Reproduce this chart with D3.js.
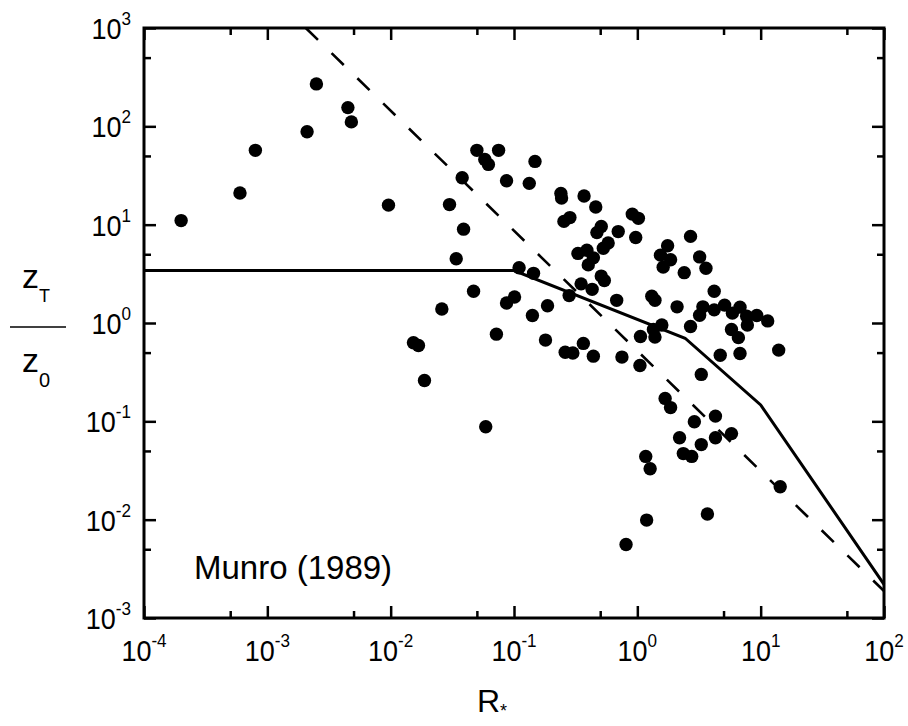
<!DOCTYPE html>
<html lang="en">
<head>
<meta charset="UTF-8">
<title>zT/z0 vs R*</title>
<script src="https://d3js.org/d3.v7.min.js"></script>
<style>
  body { margin: 0; background: #fff; }
  text { font-family: "Liberation Sans", Arial, Helvetica, sans-serif; fill: #000; }
</style>
</head>
<body>
<div id="chart"></div>
<script>
// tick values and labels
const xMajor = [1e-4, 1e-3, 1e-2, 1e-1, 1e0, 1e1, 1e2];
const xExp = ["-4", "-3", "-2", "-1", "0", "1", "2"];
const xMinor = [5e-4, 5e-3, 5e-2, 5e-1, 5, 50];
const yMajor = [1e-3, 1e-2, 1e-1, 1e0, 1e1, 1e2, 1e3];
const yExp = ["-3", "-2", "-1", "0", "1", "2", "3"];
const yMinor = [5e-3, 5e-2, 5e-1, 5, 50, 500];

// observations, Munro (1989)
const rStar = [
  2.0e-4, 6.0e-4, 8.0e-4, 2.1e-3, 2.5e-3, 4.5e-3, 4.8e-3, 9.6e-3,
  0.050, 0.075, 0.058, 0.062, 0.148, 0.038, 0.087, 0.133, 0.030, 0.039, 0.034,
  0.110, 0.144, 0.047, 0.101, 0.087, 0.026, 0.141, 0.072, 0.0153, 0.0168, 0.0188, 0.059,
  0.24, 0.243, 0.37, 0.46, 0.254, 0.284, 0.51, 0.47, 0.70, 0.58, 0.53, 0.33, 0.39,
  0.44, 0.40, 0.51, 0.54, 0.35, 0.43, 0.28, 0.68, 0.187, 0.18, 0.365, 0.26, 0.30, 0.44,
  0.91, 1.02, 0.97, 2.7, 1.76, 1.54, 1.86, 1.62, 3.2, 3.6, 2.4, 4.2, 1.31, 1.39,
  2.1, 3.4, 3.2, 5.1, 4.2, 5.9, 6.8, 7.7, 9.3, 7.8, 11.4, 2.7, 5.8, 6.6,
  1.58, 1.35, 1.39, 1.06, 14, 0.75, 1.05, 3.3, 4.7, 6.8,
  1.68, 1.86, 4.3, 2.9, 2.2, 4.3, 5.8, 3.3, 2.36, 2.76, 1.17, 1.27,
  14.4, 3.7, 1.19, 0.81
];
const zRatio = [
  11, 21, 57, 88, 270, 155, 111, 15.8,
  57, 57, 46, 41, 44, 30, 28, 26.3, 16, 9.0, 4.5,
  3.65, 3.2, 2.1, 1.84, 1.6, 1.39, 1.19, 0.77, 0.63, 0.59, 0.26, 0.088,
  20.8, 18.7, 19.6, 15.1, 10.8, 11.8, 9.6, 8.3, 8.5, 6.5, 5.75, 5.1, 5.5,
  4.6, 3.9, 3.0, 2.7, 2.5, 2.2, 1.9, 1.7, 1.5, 0.67, 0.62, 0.505, 0.495, 0.46,
  12.8, 11.6, 7.4, 7.6, 6.1, 4.9, 4.4, 3.7, 4.7, 3.6, 3.25, 2.1, 1.87, 1.7,
  1.46, 1.46, 1.2, 1.52, 1.36, 1.26, 1.45, 1.17, 1.19, 0.955, 1.05, 0.92, 0.86, 0.71,
  0.955, 0.86, 0.72, 0.73, 0.53, 0.45, 0.37, 0.30, 0.47, 0.49,
  0.171, 0.138, 0.113, 0.099, 0.068, 0.068, 0.075, 0.058, 0.047, 0.044, 0.044, 0.033,
  0.0216, 0.0114, 0.0099, 0.0056
];

// model curve (solid) and fit line (dashed)
const modelR = [1e-4, 0.1, 2.44, 10, 100];
const modelZ = [3.42, 3.42, 0.70, 0.147, 0.0022];
const fitR = [2.05e-3, 100];
const fitZ = [1000, 1.88e-3];

const width = 908, height = 726;
const margin = { top: 28, right: 24, bottom: 108, left: 144 };
const w = width - margin.left - margin.right;
const h = height - margin.top - margin.bottom;

const svg = d3.select("#chart").append("svg")
  .attr("width", width).attr("height", height);
svg.append("rect").attr("width", width).attr("height", height).attr("fill", "#fff");

const g = svg.append("g").attr("transform", `translate(${margin.left},${margin.top})`);

const x = d3.scaleLog().domain([1e-4, 1e2]).range([0, w]);
const y = d3.scaleLog().domain([1e-3, 1e3]).range([h, 0]);

function styleAxis(sel) {
  sel.select(".domain").remove();
  sel.selectAll(".tick line").attr("stroke", "#000").attr("stroke-width", 2.5);
}

// ticks, all pointing inward
g.append("g").attr("transform", `translate(0,${h})`)
  .call(d3.axisBottom(x).tickValues(xMajor).tickSize(-12).tickFormat(""))
  .call(styleAxis);
g.append("g").attr("transform", `translate(0,${h})`)
  .call(d3.axisBottom(x).tickValues(xMinor).tickSize(-7).tickFormat(""))
  .call(styleAxis);
g.append("g")
  .call(d3.axisTop(x).tickValues(xMajor).tickSize(-12).tickFormat(""))
  .call(styleAxis);
g.append("g")
  .call(d3.axisTop(x).tickValues(xMinor).tickSize(-7).tickFormat(""))
  .call(styleAxis);
g.append("g")
  .call(d3.axisLeft(y).tickValues(yMajor).tickSize(-12).tickFormat(""))
  .call(styleAxis);
g.append("g")
  .call(d3.axisLeft(y).tickValues(yMinor).tickSize(-7).tickFormat(""))
  .call(styleAxis);
g.append("g").attr("transform", `translate(${w},0)`)
  .call(d3.axisRight(y).tickValues(yMajor).tickSize(-12).tickFormat(""))
  .call(styleAxis);
g.append("g").attr("transform", `translate(${w},0)`)
  .call(d3.axisRight(y).tickValues(yMinor).tickSize(-7).tickFormat(""))
  .call(styleAxis);

// frame
g.append("rect").attr("width", w).attr("height", h)
  .attr("fill", "none").attr("stroke", "#000").attr("stroke-width", 3);

// tick labels 10^n, slightly condensed like the original
xMajor.forEach((v, i) => {
  const t = g.append("text")
    .attr("transform", `translate(${x(v)},${h + 43}) scale(0.9,1)`)
    .attr("text-anchor", "middle");
  t.append("tspan").attr("font-size", 30).text("10");
  t.append("tspan").attr("font-size", 19).attr("dy", -14).text(xExp[i]);
});
yMajor.forEach((v, i) => {
  const t = g.append("text")
    .attr("transform", `translate(-13,${y(v) + 11}) scale(0.9,1)`)
    .attr("text-anchor", "end");
  t.append("tspan").attr("font-size", 30).text("10");
  t.append("tspan").attr("font-size", 19).attr("dy", -14).text(yExp[i]);
});

// lines
const line = d3.line().x(d => x(d[0])).y(d => y(d[1]));
g.append("path")
  .datum(modelR.map((r, i) => [r, modelZ[i]]))
  .attr("d", line).attr("fill", "none")
  .attr("stroke", "#000").attr("stroke-width", 3);
g.append("path")
  .datum(fitR.map((r, i) => [r, fitZ[i]]))
  .attr("d", line).attr("fill", "none")
  .attr("stroke", "#000").attr("stroke-width", 2.6)
  .attr("stroke-dasharray", "17,19");

// points
g.selectAll("circle.obs")
  .data(rStar.map((r, i) => [r, zRatio[i]]))
  .enter().append("circle")
  .attr("class", "obs")
  .attr("cx", d => x(d[0])).attr("cy", d => y(d[1]))
  .attr("r", 6.7).attr("fill", "#000");

// annotation
g.append("text").attr("x", 50).attr("y", 579 - margin.top)
  .attr("font-size", 33).text("Munro (1989)");

// axis titles
const xt = svg.append("text").attr("x", 477).attr("y", 712);
xt.append("tspan").attr("font-size", 32).text("R");
xt.append("tspan").attr("font-size", 18).attr("dy", 5).text("*");

const yt1 = svg.append("text").attr("x", 22).attr("y", 288);
yt1.append("tspan").attr("font-size", 34).text("z");
yt1.append("tspan").attr("font-size", 18).attr("dy", 14).text("T");
svg.append("line").attr("x1", 10).attr("x2", 66).attr("y1", 327).attr("y2", 327)
  .attr("stroke", "#000").attr("stroke-width", 1.5);
const yt2 = svg.append("text").attr("x", 22).attr("y", 372);
yt2.append("tspan").attr("font-size", 34).text("z");
yt2.append("tspan").attr("font-size", 20).attr("dy", 15).text("0");
</script>
</body>
</html>
